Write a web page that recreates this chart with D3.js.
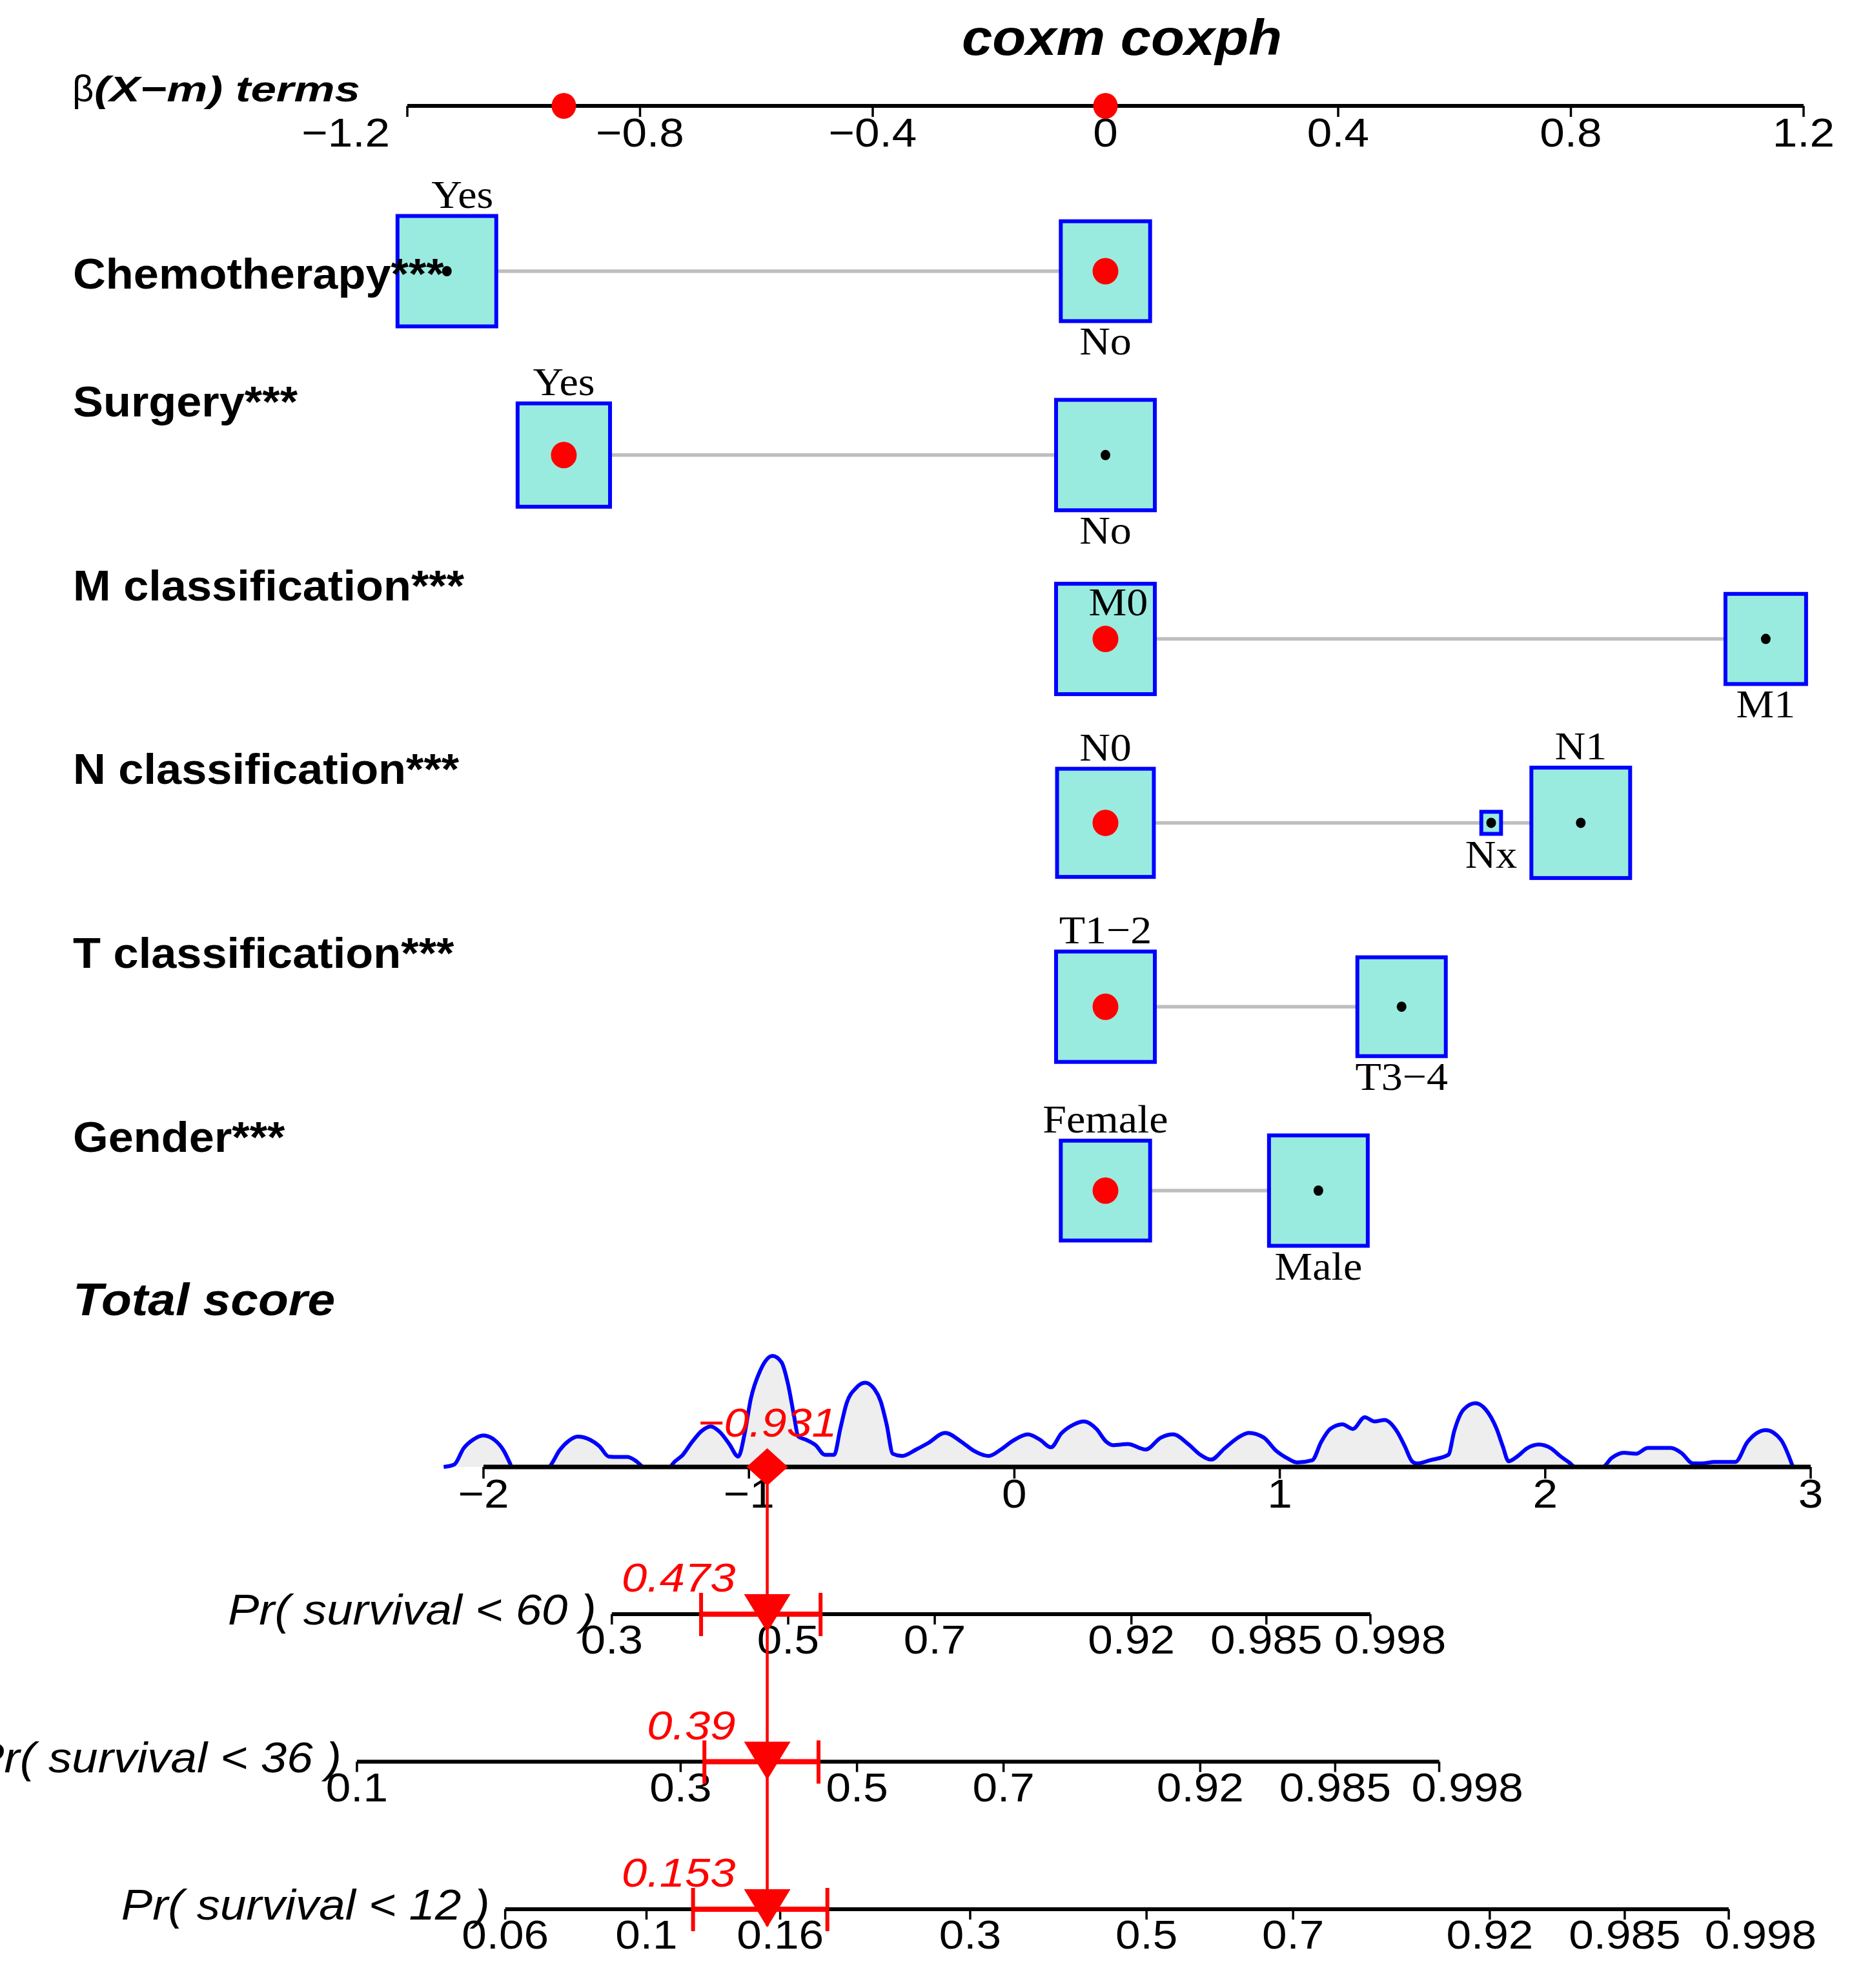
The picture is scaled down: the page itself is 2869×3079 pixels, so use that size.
<!DOCTYPE html>
<html><head><meta charset="utf-8">
<script src="https://cdn.jsdelivr.net/npm/d3@7"></script>
<style>html,body{margin:0;padding:0;background:#fff;} svg{display:block;}</style>
</head><body>
<svg id="chart" width="2869" height="3079"></svg>
<script>
// ---------------- data ----------------
const chartTitle = "coxm coxph";
const termsAxisLabel = "(X−m) terms";
const termsTicks = [-1.2, -0.8, -0.4, 0, 0.4, 0.8, 1.2];
const variableNames = ["Chemotherapy***", "Surgery***", "M classification***", "N classification***", "T classification***", "Gender***"];
const levelVariable = [0, 0, 1, 1, 2, 2, 3, 3, 3, 4, 4, 5, 5];
const levelNames = ["Yes", "No", "Yes", "No", "M0", "M1", "N0", "Nx", "N1", "T1−2", "T3−4", "Female", "Male"];
const levelBeta = [-1.132, 0, -0.931, 0, 0, 1.135, 0, 0.663, 0.817, 0, 0.509, 0, 0.366];
const levelFreq = [0.55, 0.45, 0.467, 0.533, 0.60, 0.40, 0.48, 0.02, 0.50, 0.555, 0.445, 0.45, 0.55];
const observedLevel = ["No", "Yes", "M0", "N0", "T1−2", "Female"];
const totalScoreLabel = "Total score";
const totalScore = -0.931;
const scoreTicks = [-2, -1, 0, 1, 2, 3];
const densityScore = [-2.15,-2.11,-2.075,-2.04,-2.001,-1.959,-1.924,-1.9,-1.894,-1.752,-1.745,-1.714,-1.679,-1.645,-1.598,-1.563,-1.528,-1.493,-1.458,-1.424,-1.396,-1.295,-1.289,-1.249,-1.214,-1.179,-1.144,-1.109,-1.074,-1.04,-1.016,-0.993,-0.958,-0.911,-0.877,-0.853,-0.83,-0.814,-0.784,-0.749,-0.714,-0.679,-0.656,-0.632,-0.597,-0.562,-0.527,-0.504,-0.481,-0.458,-0.423,-0.37,-0.325,-0.261,-0.199,-0.154,-0.097,-0.051,-0.006,0.051,0.097,0.138,0.177,0.222,0.263,0.309,0.347,0.37,0.427,0.495,0.552,0.598,0.655,0.701,0.741,0.792,0.837,0.883,0.94,0.985,1.031,1.065,1.122,1.156,1.19,1.236,1.275,1.32,1.357,1.395,1.441,1.471,1.498,1.516,1.566,1.635,1.657,1.692,1.737,1.776,1.817,1.84,1.862,1.897,1.931,1.976,2.022,2.056,2.09,2.113,2.216,2.25,2.296,2.341,2.387,2.473,2.512,2.557,2.591,2.637,2.716,2.762,2.831,2.888,2.933];
const densityValue = [0,0.019,0.144,0.21,0.244,0.21,0.127,0.027,0,0,0.019,0.127,0.202,0.235,0.21,0.16,0.08,0.077,0.077,0.044,0,0,0.019,0.094,0.194,0.277,0.314,0.269,0.177,0.08,0.26,0.527,0.744,0.86,0.81,0.644,0.394,0.235,0.21,0.169,0.094,0.094,0.294,0.494,0.61,0.652,0.602,0.51,0.327,0.102,0.085,0.135,0.185,0.264,0.194,0.127,0.085,0.135,0.202,0.252,0.21,0.152,0.26,0.327,0.352,0.294,0.194,0.169,0.177,0.135,0.227,0.252,0.177,0.094,0.057,0.144,0.219,0.264,0.227,0.127,0.064,0.035,0.052,0.194,0.294,0.33,0.294,0.385,0.352,0.364,0.277,0.16,0.044,0.027,0.052,0.094,0.277,0.444,0.494,0.444,0.294,0.16,0.044,0.085,0.144,0.174,0.144,0.085,0.035,0,0,0.069,0.11,0.102,0.147,0.147,0.11,0.027,0.027,0.039,0.039,0.194,0.285,0.21,0];
const probLabels = ["Pr( survival < 60 )", "Pr( survival < 36 )", "Pr( survival < 12 )"];
const probTicks = [
  [0.3, 0.5, 0.7, 0.92, 0.985, 0.998],
  [0.1, 0.3, 0.5, 0.7, 0.92, 0.985, 0.998],
  [0.06, 0.1, 0.16, 0.3, 0.5, 0.7, 0.92, 0.985, 0.998]
];
const probValues = [0.473, 0.39, 0.153];
const probLow = [0.393, 0.323, 0.118];
const probHigh = [0.543, 0.451, 0.188];

// ---------------- layout ----------------
const svg = d3.select("#chart");
svg.append("rect").attr("width", 2869).attr("height", 3079).attr("fill", "#fff");
const SANS = "'Liberation Sans', Arial, sans-serif";
const SERIF = "'Liberation Serif', 'Times New Roman', serif";
const RED = "#ff0000", BLUE = "#0000ff";

function stretch(sel, k) {
  sel.each(function () {
    const w = this.getComputedTextLength();
    d3.select(this).attr("textLength", w * k).attr("lengthAdjust", "spacingAndGlyphs");
  });
  return sel;
}
function stretchTo(sel, width) {
  sel.attr("textLength", width).attr("lengthAdjust", "spacingAndGlyphs");
  return sel;
}
const fmt = v => (v < 0 ? "−" + Math.abs(v) : String(v));

const xBeta = d3.scaleLinear().domain([-1.2, 1.2]).range([631, 2794]);
const xScore = d3.scaleLinear().domain([-2, 3]).range([749, 2805]);
const yRow = d3.scalePoint().domain(variableNames).range([420, 1844]);
const yProb = d3.scalePoint().domain(probLabels).range([2500, 2957]);
const yDens = d3.scaleLinear().domain([0, 1]).range([2272, 2072]);
const boxScale = d3.scaleSqrt().domain([0, 1]).range([0, 1]);
const BOX_W = 153, BOX_H = 171;

// title
stretch(svg.append("text").attr("x", 1738).attr("y", 85).attr("text-anchor", "middle")
  .attr("font-family", SANS).attr("font-weight", "bold").attr("font-style", "italic")
  .attr("font-size", 78).text(chartTitle), 1.09);

// beta axis label
svg.append("text").attr("x", 112).attr("y", 157).attr("font-family", SANS)
  .attr("font-size", 58).text("β");
stretchTo(svg.append("text").attr("x", 146).attr("y", 157).attr("font-family", SANS)
  .attr("font-weight", "bold").attr("font-style", "italic").attr("font-size", 56)
  .text(termsAxisLabel), 412);

// beta axis
const gB = svg.append("g");
gB.append("line").attr("x1", xBeta(termsTicks[0])).attr("x2", xBeta(termsTicks[termsTicks.length - 1]))
  .attr("y1", 164).attr("y2", 164).attr("stroke", "#000").attr("stroke-width", 6);
gB.selectAll("line.t").data(termsTicks).join("line").attr("class", "t")
  .attr("x1", d => xBeta(d)).attr("x2", d => xBeta(d)).attr("y1", 164).attr("y2", 181)
  .attr("stroke", "#000").attr("stroke-width", 3.5);
gB.selectAll("text").data(termsTicks).join("text")
  .attr("x", (d, i) => i === 0 ? xBeta(d) - 27 : xBeta(d))
  .attr("y", 227).attr("text-anchor", (d, i) => i === 0 ? "end" : "middle")
  .attr("font-family", SANS).attr("font-size", 63).text(fmt)
  .call(stretch, 1.1);

// observed term values on beta axis
const obsBetas = Array.from(new Set(variableNames.map((v, i) => {
  const idx = levelNames.findIndex((n, j) => levelVariable[j] === i && n === observedLevel[i]);
  return levelBeta[idx];
})));
gB.selectAll("ellipse").data(obsBetas).join("ellipse")
  .attr("cx", d => xBeta(d)).attr("cy", 164).attr("rx", 19).attr("ry", 20).attr("fill", RED);

// rows
const gRows = svg.append("g");
const labelLayer = svg.append("g");
const labelNudge = { "2:M0": { dx: 20, dy: -37, inside: true }, "0:Yes": { dx: 24 } };

variableNames.forEach((vname, vi) => {
  const y = yRow(vname);
  const idx = levelNames.map((n, j) => j).filter(j => levelVariable[j] === vi);
  const maxF = d3.max(idx, j => levelFreq[j]);
  const betas = idx.map(j => levelBeta[j]);
  gRows.append("line").attr("x1", xBeta(d3.min(betas))).attr("x2", xBeta(d3.max(betas)))
    .attr("y1", y).attr("y2", y).attr("stroke", "#bebebe").attr("stroke-width", 5.5);
  const sorted = idx.slice().sort((a, b) => levelBeta[a] - levelBeta[b]);
  sorted.forEach((j, rank) => {
    const cx = xBeta(levelBeta[j]);
    const s = boxScale(levelFreq[j] / maxF);
    const w = BOX_W * s, h = BOX_H * s;
    gRows.append("rect").attr("x", cx - w / 2).attr("y", y - h / 2).attr("width", w).attr("height", h)
      .attr("fill", "#9aebdf").attr("stroke", BLUE).attr("stroke-width", 6);
    const obs = levelNames[j] === observedLevel[vi];
    gRows.append("ellipse").attr("cx", cx).attr("cy", y)
      .attr("rx", obs ? 20 : 7.5).attr("ry", obs ? 20.5 : 8).attr("fill", obs ? RED : "#000");
    const above = rank % 2 === 0;
    const nudge = labelNudge[vi + ":" + levelNames[j]] || {};
    let ly = above ? y - h / 2 - 13 : y + h / 2 + 52;
    if (nudge.inside) ly = y + nudge.dy;
    stretch(labelLayer.append("text").attr("x", cx + (nudge.dx || 0)).attr("y", ly)
      .attr("text-anchor", "middle").attr("font-family", SERIF).attr("font-size", 62)
      .text(levelNames[j]), 1.065);
  });
  labelLayer.append("text").attr("x", 113).attr("y", vi === 0 ? y + 27 : y - 60)
    .attr("font-family", SANS).attr("font-weight", "bold").attr("font-size", 67).text(vname)
    .call(stretch, 1.05);
});

// total score label
stretch(svg.append("text").attr("x", 113).attr("y", 2037).attr("font-family", SANS)
  .attr("font-weight", "bold").attr("font-style", "italic").attr("font-size", 71).text(totalScoreLabel), 1.08);

// density
const dens = d3.zip(densityScore, densityValue);
svg.append("path").datum(dens)
  .attr("d", d3.area().x(d => xScore(d[0])).y0(yDens(0)).y1(d => yDens(d[1])).curve(d3.curveMonotoneX))
  .attr("fill", "#eeeeee");
svg.append("path").datum(dens)
  .attr("d", d3.line().x(d => xScore(d[0])).y(d => yDens(d[1])).curve(d3.curveMonotoneX))
  .attr("fill", "none").attr("stroke", BLUE).attr("stroke-width", 6);

// score axis
const gS = svg.append("g");
gS.append("line").attr("x1", xScore(scoreTicks[0])).attr("x2", xScore(scoreTicks[scoreTicks.length - 1]))
  .attr("y1", 2272).attr("y2", 2272).attr("stroke", "#000").attr("stroke-width", 7);
gS.selectAll("line.t").data(scoreTicks).join("line").attr("class", "t")
  .attr("x1", d => xScore(d)).attr("x2", d => xScore(d)).attr("y1", 2272).attr("y2", 2290)
  .attr("stroke", "#000").attr("stroke-width", 3.5);
gS.selectAll("text").data(scoreTicks).join("text")
  .attr("x", d => xScore(d)).attr("y", 2335).attr("text-anchor", "middle")
  .attr("font-family", SANS).attr("font-size", 63).text(fmt).call(stretch, 1.1);

// probability axes
const xs = xScore(totalScore);
const probX = (p, i) => {
  const H0 = -Math.log(1 - probValues[i]) / Math.exp(totalScore);
  return xScore(Math.log(-Math.log(1 - p) / H0));
};
probLabels.forEach((lab, i) => {
  const y = yProb(lab);
  const ticks = probTicks[i];
  const x0 = probX(ticks[0], i), x1 = probX(ticks[ticks.length - 1], i);
  const g = svg.append("g");
  g.append("line").attr("x1", x0).attr("x2", x1).attr("y1", y).attr("y2", y)
    .attr("stroke", "#000").attr("stroke-width", 6);
  g.selectAll("line.t").data(ticks).join("line").attr("class", "t")
    .attr("x1", d => probX(d, i)).attr("x2", d => probX(d, i)).attr("y1", y).attr("y2", y + 16)
    .attr("stroke", "#000").attr("stroke-width", 3.5);
  g.selectAll("text").data(ticks).join("text")
    .attr("x", (d, k) => probX(d, i) + (k === ticks.length - 1 ? 0.026 * (x1 - x0) : 0))
    .attr("y", y + 61).attr("text-anchor", "middle")
    .attr("font-family", SANS).attr("font-size", 63).text(d => String(d)).call(stretch, 1.1);
  stretch(g.append("text").attr("x", x0 - 24).attr("y", y + 16).attr("text-anchor", "end")
    .attr("font-family", SANS).attr("font-style", "italic").attr("font-size", 66).text(lab), 1.1);
});

// red observation line
svg.append("line").attr("x1", xs).attr("x2", xs).attr("y1", 2272).attr("y2", yProb(probLabels[2]) + 26)
  .attr("stroke", RED).attr("stroke-width", 4.5);

// diamond + score label
svg.append("path").attr("d", `M${xs - 32},2272L${xs},2243L${xs + 32},2272L${xs},2301Z`).attr("fill", RED);
stretch(svg.append("text").attr("x", xs).attr("y", 2225).attr("text-anchor", "middle")
  .attr("font-family", SANS).attr("font-style", "italic").attr("font-size", 63).attr("fill", RED)
  .text(fmt(totalScore)), 1.11);

// probability CI bars, triangles, labels
probLabels.forEach((lab, i) => {
  const y = yProb(lab);
  const xl = probX(probLow[i], i), xh = probX(probHigh[i], i);
  const g = svg.append("g");
  g.append("line").attr("x1", xl).attr("x2", xh).attr("y1", y).attr("y2", y)
    .attr("stroke", RED).attr("stroke-width", 8);
  [xl, xh].forEach(x => g.append("line").attr("x1", x).attr("x2", x).attr("y1", y - 33).attr("y2", y + 34)
    .attr("stroke", RED).attr("stroke-width", 6));
  const xp = probX(probValues[i], i);
  g.append("path").attr("d", `M${xp - 36},${y - 31}L${xp + 36},${y - 31}L${xp},${y + 28}Z`).attr("fill", RED);
  stretch(g.append("text").attr("x", xp - 49).attr("y", y - 35).attr("text-anchor", "end")
    .attr("font-family", SANS).attr("font-style", "italic").attr("font-size", 63).attr("fill", RED)
    .text(String(probValues[i])), 1.12);
});
</script>
</body></html>
